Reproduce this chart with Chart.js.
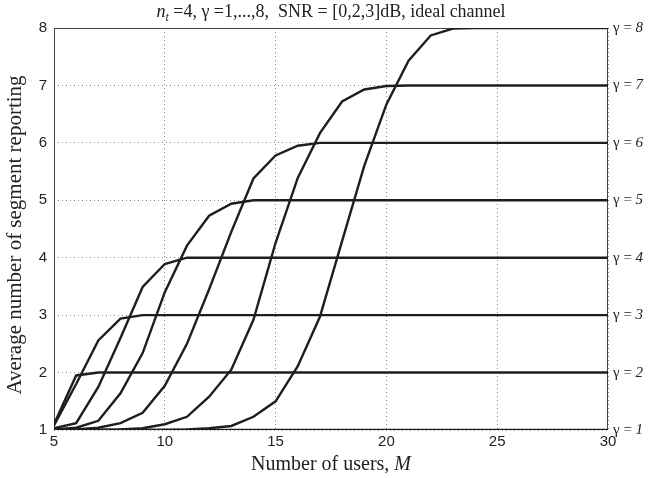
<!DOCTYPE html>
<html>
<head>
<meta charset="utf-8">
<script src="https://cdn.jsdelivr.net/npm/chart.js@4"></script>
<style>
html, body { margin: 0; padding: 0; background: #fff; }
</style>
</head>
<body>
<canvas id="myChart" width="651" height="478"></canvas>
<script>
// numero de utilizadores (eixo x)
var usuarios = [5, 6, 7, 8, 9, 10, 11, 12, 13, 14, 15, 16, 17, 18, 19, 20, 21, 22, 23, 24, 25, 26, 27, 28, 29, 30];

// media de segmentos reportados, uma curva por gamma
var gama1 = [1, 1, 1, 1, 1, 1, 1, 1, 1, 1, 1, 1, 1, 1, 1, 1, 1, 1, 1, 1, 1, 1, 1, 1, 1, 1];
var gama2 = [1.1, 1.95, 2, 2, 2, 2, 2, 2, 2, 2, 2, 2, 2, 2, 2, 2, 2, 2, 2, 2, 2, 2, 2, 2, 2, 2];
var gama3 = [1.08, 1.8, 2.56, 2.94, 3, 3, 3, 3, 3, 3, 3, 3, 3, 3, 3, 3, 3, 3, 3, 3, 3, 3, 3, 3, 3, 3];
var gama4 = [1.03, 1.12, 1.75, 2.6, 3.49, 3.89, 4, 4, 4, 4, 4, 4, 4, 4, 4, 4, 4, 4, 4, 4, 4, 4, 4, 4, 4, 4];
var gama5 = [1.01, 1.04, 1.16, 1.64, 2.34, 3.4, 4.21, 4.73, 4.94, 5, 5, 5, 5, 5, 5, 5, 5, 5, 5, 5, 5, 5, 5, 5, 5, 5];
var gama6 = [1, 1.01, 1.04, 1.12, 1.3, 1.77, 2.5, 3.45, 4.45, 5.38, 5.78, 5.95, 6, 6, 6, 6, 6, 6, 6, 6, 6, 6, 6, 6, 6, 6];
var gama7 = [1, 1, 1, 1.01, 1.03, 1.1, 1.23, 1.58, 2.05, 2.92, 4.26, 5.39, 6.17, 6.72, 6.93, 6.99, 7, 7, 7, 7, 7, 7, 7, 7, 7, 7];
var gama8 = [1, 1, 1, 1, 1, 1, 1.01, 1.03, 1.07, 1.23, 1.5, 2.11, 2.97, 4.29, 5.6, 6.67, 7.43, 7.87, 7.99, 8, 8, 8, 8, 8, 8, 8];

// etiquetas da direita
var gamaLabels = ['1', '2', '3', '4', '5', '6', '7', '8'];
var gamaValores = [1, 2, 3, 4, 5, 6, 7, 8];

var series = [gama1, gama2, gama3, gama4, gama5, gama6, gama7, gama8];

function pontos(valores) {
    var out = [];
    for (var i = 0; i < usuarios.length; i++) {
        out.push({ x: usuarios[i], y: valores[i] });
    }
    return out;
}

var datasets = series.map(function (s, i) {
    return {
        label: 'gamma ' + gamaLabels[i],
        data: pontos(s),
        borderColor: '#1e1e1e',
        backgroundColor: 'transparent',
        borderWidth: 2.4,
        pointRadius: 0,
        tension: 0
    };
});

var serif = '"Liberation Serif", "DejaVu Serif", serif';
var sans = '"Liberation Sans", Arial, sans-serif';

// moldura, titulo, titulos dos eixos e etiquetas gamma
var textos = {
    id: 'textos',
    beforeDatasetsDraw: function (chart) {
        var ctx = chart.ctx, a = chart.chartArea;
        ctx.save();
        ctx.strokeStyle = '#444';
        ctx.lineWidth = 1;
        ctx.strokeRect(a.left + 0.5, a.top + 0.5, a.right - a.left - 1, a.bottom - a.top - 1);
        ctx.restore();
    },
    afterDraw: function (chart) {
        var ctx = chart.ctx, a = chart.chartArea;
        var ys = chart.scales.y;
        ctx.save();
        ctx.fillStyle = '#222';
        ctx.textBaseline = 'middle';

        // etiquetas gamma a direita
        for (var i = 0; i < gamaLabels.length; i++) {
            var py = ys.getPixelForValue(gamaValores[i]);
            var px = a.right + 5;
            ctx.font = '15px ' + serif;
            ctx.textAlign = 'left';
            ctx.fillText('\u03b3 = ', px, py);
            var w = ctx.measureText('\u03b3 = ').width;
            ctx.font = 'italic 15px ' + serif;
            ctx.fillText(gamaLabels[i], px + w, py);
        }

        // titulo com n_t
        var partes = [
            { t: 'n', f: 'italic 18px ' + serif, dy: 0 },
            { t: 't', f: 'italic 12px ' + serif, dy: 6 },
            { t: ' =4, \u03b3 =1,...,8,  SNR = [0,2,3]dB, ideal channel', f: '18px ' + serif, dy: 0 }
        ];
        var total = 0;
        partes.forEach(function (p) { ctx.font = p.f; total += ctx.measureText(p.t).width; });
        var x0 = (a.left + a.right) / 2 - total / 2;
        ctx.textAlign = 'left';
        partes.forEach(function (p) {
            ctx.font = p.f;
            ctx.fillText(p.t, x0, 12 + p.dy);
            x0 += ctx.measureText(p.t).width;
        });

        // titulo do eixo x
        ctx.font = '20px ' + serif;
        var t1 = 'Number of users, ';
        var w1 = ctx.measureText(t1).width;
        ctx.font = 'italic 20px ' + serif;
        var w2 = ctx.measureText('M').width;
        var xs = (a.left + a.right) / 2 - (w1 + w2) / 2;
        ctx.font = '20px ' + serif;
        ctx.fillText(t1, xs, 465);
        ctx.font = 'italic 20px ' + serif;
        ctx.fillText('M', xs + w1, 465);

        // titulo do eixo y
        ctx.translate(15, 235);
        ctx.rotate(-Math.PI / 2);
        ctx.textAlign = 'center';
        ctx.font = '21px ' + serif;
        ctx.fillText('Average number of segment reporting', 0, 0);
        ctx.restore();
    }
};

var ctx = document.getElementById('myChart').getContext('2d');
var myLineChart = new Chart(ctx, {
    type: 'line',
    data: { datasets: datasets },
    options: {
        responsive: false,
        devicePixelRatio: 1,
        animation: false,
        layout: { padding: { left: 0, right: 43, top: 28, bottom: 0 } },
        plugins: {
            legend: { display: false },
            tooltip: { enabled: false }
        },
        scales: {
            x: {
                type: 'linear',
                min: 5,
                max: 30,
                ticks: { stepSize: 5, color: '#222', font: { family: sans, size: 15 }, padding: 3 },
                grid: { color: '#888', lineWidth: 1, drawTicks: false },
                border: { display: false, dash: [1, 3] },
                afterFit: function (scale) { scale.height = 48; }
            },
            y: {
                min: 1,
                max: 8,
                ticks: { stepSize: 1, color: '#222', font: { family: sans, size: 15 }, padding: 7 },
                grid: { color: '#888', lineWidth: 1, drawTicks: false },
                border: { display: false, dash: [1, 3] },
                afterFit: function (scale) { scale.width = 54; }
            }
        }
    },
    plugins: [textos]
});
</script>
</body>
</html>
